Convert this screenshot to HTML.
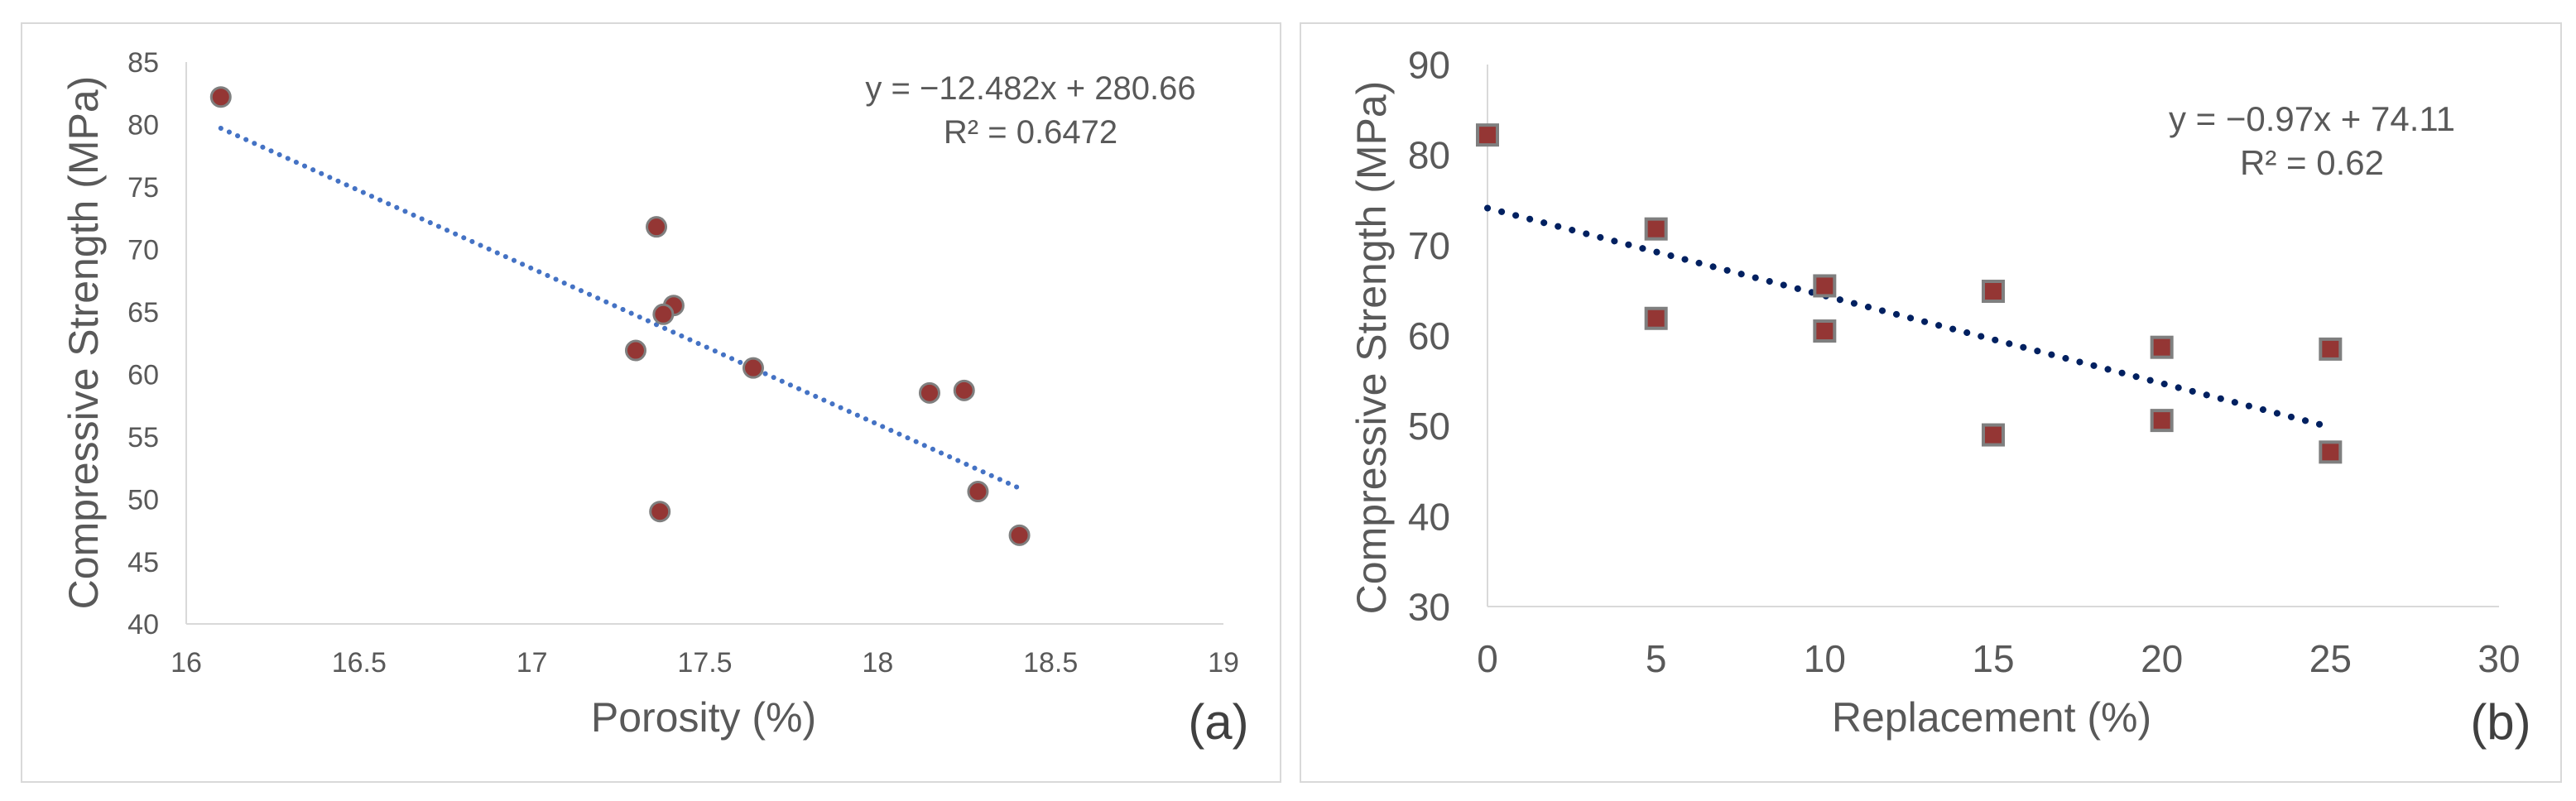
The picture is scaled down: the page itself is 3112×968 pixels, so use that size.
<!DOCTYPE html>
<html><head><meta charset="utf-8"><style>
html,body{margin:0;padding:0;background:#fff;}
svg{display:block;font-family:"Liberation Sans",sans-serif;}
</style></head><body>
<svg id="svg" width="3112" height="968" viewBox="0 0 3112 968" xmlns="http://www.w3.org/2000/svg">
<rect x="26" y="28" width="1521" height="917" fill="#fff" stroke="#d9d9d9" stroke-width="2"/>
<rect x="1571" y="28" width="1523" height="917" fill="#fff" stroke="#d9d9d9" stroke-width="2"/>
<g id="ga"></g>
<g id="gb"></g>
</svg>
<script>
const aX = [16.1, 17.36, 17.41, 17.38, 17.30, 17.64, 18.15, 18.25, 18.29, 17.37, 18.41];
const aY = [82.2, 71.8, 65.5, 64.8, 61.9, 60.5, 58.5, 58.7, 50.6, 49.0, 47.1];
const aXTicks = ["16","16.5","17","17.5","18","18.5","19"];
const aYTicks = ["40","45","50","55","60","65","70","75","80","85"];
const aSlope = -12.482, aIntercept = 280.66;

const bX = [0, 5, 5, 10, 10, 15, 15, 20, 20, 25, 25];
const bY = [82.2, 71.8, 61.9, 65.5, 60.5, 64.9, 49.0, 58.7, 50.6, 58.5, 47.1];
const bXTicks = ["0","5","10","15","20","25","30"];
const bYTicks = ["30","40","50","60","70","80","90"];
const bSlope = -0.97, bIntercept = 74.11;

const NS = "http://www.w3.org/2000/svg";
function mk(parent, tag, attrs, text){
  const e = document.createElementNS(NS, tag);
  for (const k in attrs) e.setAttribute(k, attrs[k]);
  if (text !== undefined) e.textContent = text;
  parent.appendChild(e);
  return e;
}

function chart(g, cfg){
  const sx = v => cfg.x0 + (v - cfg.xmin) / (cfg.xmax - cfg.xmin) * (cfg.x1 - cfg.x0);
  const sy = v => cfg.y0 - (v - cfg.ymin) / (cfg.ymax - cfg.ymin) * (cfg.y0 - cfg.y1);
  let e;
  e = mk(g, "line", {x1: cfg.x0, y1: cfg.y1, x2: cfg.x0, y2: cfg.y0, stroke: "#d9d9d9", "stroke-width": 2});
  
  
  e = mk(g, "line", {x1: cfg.x0, y1: cfg.y0, x2: cfg.x1, y2: cfg.y0, stroke: "#d9d9d9", "stroke-width": 2});
  
  
  cfg.xt.forEach(t => {
    e = mk(g, "text", {x: sx(parseFloat(t)), y: cfg.xty, "text-anchor": "middle", "font-size": cfg.tfs, fill: "#595959"}, t);
    
    
  });
  cfg.yt.forEach(t => {
    e = mk(g, "text", {x: cfg.ytx, y: sy(parseFloat(t)) + cfg.tfs*0.36, "text-anchor": "end", "font-size": cfg.tfs, fill: "#595959"}, t);
    
    
  });
  // trendline
  const xa = Math.min(...cfg.xs), xb = Math.max(...cfg.xs);
  e = mk(g, "line", {x1: sx(xa), y1: sy(cfg.m*xa + cfg.b), x2: sx(xb), y2: sy(cfg.m*xb + cfg.b),
    stroke: cfg.lc, "stroke-width": cfg.lw, "stroke-linecap": "round", "stroke-dasharray": cfg.dash});
  
  
  cfg.xs.forEach((xv, i) => {
    const cx = sx(xv), cy = sy(cfg.ys[i]);
    if (cfg.square) {
      e = mk(g, "rect", {x: cx-12, y: cy-12, width: 24, height: 24, fill: "#943634", stroke: "#7f7f7f", "stroke-width": 4});
    } else {
      e = mk(g, "circle", {cx: cx, cy: cy, r: 11.5, fill: "#943634", stroke: "#7f7f7f", "stroke-width": 3});
    }
    
    
  });
}

chart(document.getElementById("ga"), {x0:225, x1:1478, y0:754, y1:75, xmin:16, xmax:19, ymin:40, ymax:85,
  xt:aXTicks, yt:aYTicks, xty:812, ytx:192, tfs:34, xs:aX, ys:aY, m:aSlope, b:aIntercept,
  lc:"#4472c4", lw:6, dash:"0.1 11", square:false});
chart(document.getElementById("gb"), {x0:1797, x1:3019, y0:733, y1:78, xmin:0, xmax:30, ymin:30, ymax:90,
  xt:bXTicks, yt:bYTicks, xty:812, ytx:1752, tfs:46, xs:bX, ys:bY, m:bSlope, b:bIntercept,
  lc:"#002060", lw:8, dash:"0.1 17.5", square:true});
</script>
<svg width="0" height="0" style="position:absolute"></svg>
<div style="position:absolute;left:0;top:0;width:3112px;height:968px;pointer-events:none">
<svg width="3112" height="968" style="font-family:'Liberation Sans',sans-serif">
<text x="850" y="884" text-anchor="middle" font-size="50" fill="#595959">Porosity (%)</text>
<text x="1472" y="893" text-anchor="middle" font-size="60" fill="#404040">(a)</text>
<text transform="translate(118,414) rotate(-90)" text-anchor="middle" font-size="50" fill="#595959">Compressive Strength (MPa)</text>
<text x="1245" y="120" text-anchor="middle" font-size="40" fill="#595959">y = −12.482x + 280.66</text>
<text x="1245" y="173" text-anchor="middle" font-size="40" fill="#595959">R² = 0.6472</text>
<text x="2406" y="884" text-anchor="middle" font-size="50" fill="#595959">Replacement (%)</text>
<text x="3021" y="893" text-anchor="middle" font-size="60" fill="#404040">(b)</text>
<text transform="translate(1674,420) rotate(-90)" text-anchor="middle" font-size="50" fill="#595959">Compressive Strength (MPa)</text>
<text x="2793" y="158" text-anchor="middle" font-size="42" fill="#595959">y = −0.97x + 74.11</text>
<text x="2793" y="211" text-anchor="middle" font-size="42" fill="#595959">R² = 0.62</text>
</svg></div>
</body></html>
